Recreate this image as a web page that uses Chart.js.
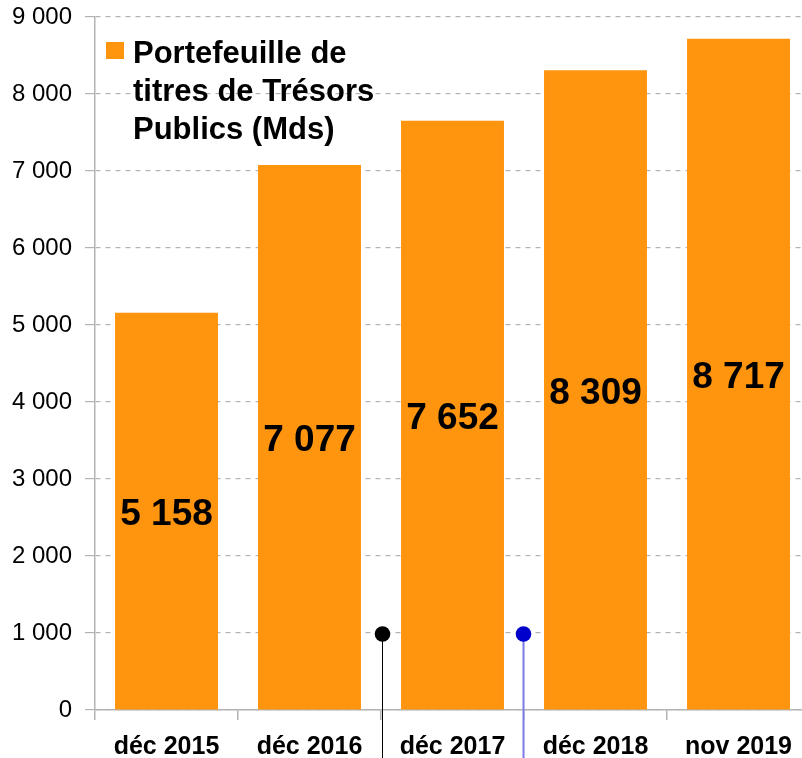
<!DOCTYPE html>
<html lang="fr">
<head>
<meta charset="utf-8">
<title>Portefeuille de titres de Trésors Publics</title>
<script src="https://cdn.jsdelivr.net/npm/chart.js@4/dist/chart.umd.min.js"></script>
<style>
  html, body { margin: 0; padding: 0; background: #fff; overflow: hidden; }
  #wrap { width: 802px; height: 758px; overflow: hidden; position: relative; }
  canvas { position: absolute; left: 0; top: 0; }
</style>
</head>
<body>
<div id="wrap">
  <canvas id="myChart" width="820" height="758"></canvas>
</div>
<script>
// categories et valeurs (milliards)
const categories = ['déc 2015', 'déc 2016', 'déc 2017', 'déc 2018', 'nov 2019'];
const portfolioValues = [5158, 7077, 7652, 8309, 8717];
const yTicks = [0, 1000, 2000, 3000, 4000, 5000, 6000, 7000, 8000, 9000];
const legendLines = ['Portefeuille de', 'titres de Trésors', 'Publics (Mds)'];

// petits repères (position en index de catégorie)
const markerX = [1.51, 2.49];
const markerY = [1000, 1000];
const markerColors = ['#000000', '#0000cc'];
const stemColors = ['#000000', '#7a7ae6'];

const orange = '#ff950e';
const gridGrey = '#b3b3b3';

function fmt(v) {
    return String(v).replace(/\B(?=(\d{3})+(?!\d))/g, ' ');
}

// valeurs au milieu des barres + légende + repères
const extras = {
    id: 'extras',
    afterDatasetsDraw(chart) {
        const ctx = chart.ctx;
        const xs = chart.scales.x;
        const ys = chart.scales.y;
        const meta = chart.getDatasetMeta(0);
        ctx.save();
        ctx.font = 'bold 37px "Liberation Sans", Arial, sans-serif';
        ctx.fillStyle = '#000';
        ctx.textAlign = 'center';
        ctx.textBaseline = 'middle';
        meta.data.forEach((bar, i) => {
            const mid = (bar.y + bar.base) / 2;
            ctx.fillText(fmt(portfolioValues[i]), bar.x, mid + 4);
        });

        // repères : tige + point
        markerX.forEach((mx, i) => {
            const px = Math.round(xs.getPixelForValue(mx));
            const py = ys.getPixelForValue(markerY[i]);
            ctx.strokeStyle = stemColors[i];
            ctx.lineWidth = i === 0 ? 1 : 2;
            ctx.beginPath();
            ctx.moveTo(px + 0.5, py);
            ctx.lineTo(px + 0.5, chart.height);
            ctx.stroke();
            ctx.fillStyle = markerColors[i];
            ctx.beginPath();
            ctx.arc(px + 0.5, py + 1, 7.8, 0, Math.PI * 2);
            ctx.fill();
        });

        // légende
        const area = chart.chartArea;
        ctx.fillStyle = orange;
        ctx.fillRect(area.left + 11, area.top + 25, 18, 17);
        ctx.fillStyle = '#000';
        ctx.textAlign = 'left';
        ctx.font = 'bold 31px "Liberation Sans", Arial, sans-serif';
        legendLines.forEach((line, i) => {
            ctx.fillText(line, area.left + 38, area.top + 37 + i * 38);
        });
        ctx.restore();
    }
};

const ctx = document.getElementById('myChart').getContext('2d');
new Chart(ctx, {
    type: 'bar',
    data: {
        labels: categories,
        datasets: [{
            label: legendLines.join(' '),
            data: portfolioValues,
            backgroundColor: orange,
            borderWidth: 0,
            categoryPercentage: 1,
            barPercentage: 0.72
        }]
    },
    options: {
        responsive: false,
        animation: false,
        events: [],
        layout: { padding: { top: 17, right: 10, left: 0, bottom: 0 } },
        plugins: {
            legend: { display: false },
            tooltip: { enabled: false }
        },
        scales: {
            x: {
                type: 'category',
                grid: {
                    offset: true,
                    drawOnChartArea: false,
                    drawTicks: true,
                    tickLength: 10,
                    color: gridGrey,
                    lineWidth: 1.5
                },
                border: { color: gridGrey, width: 1.5 },
                ticks: {
                    color: '#000',
                    padding: 12,
                    maxRotation: 0,
                    font: { family: '"Liberation Sans", Arial, sans-serif', size: 25, weight: 'bold' }
                },
                afterFit(scale) {
                    scale.height = 48;
                    scale.paddingLeft = 0;
                    scale.paddingRight = 0;
                }
            },
            y: {
                min: 0,
                max: 9000,
                afterBuildTicks(scale) { scale.ticks = yTicks.map(v => ({ value: v })); },
                grid: {
                    color: gridGrey,
                    lineWidth: 1.2,
                    tickLength: 10,
                    tickBorderDash: [],
                    tickColor: gridGrey
                },
                border: { color: gridGrey, width: 1.5, dash: [5, 5] },
                ticks: {
                    color: '#000',
                    padding: 13,
                    callback: v => fmt(v),
                    font: { family: '"Liberation Sans", Arial, sans-serif', size: 24 }
                },
                afterFit(scale) {
                    scale.width = 95;
                    scale.paddingTop = 0;
                    scale.paddingBottom = 0;
                }
            }
        }
    },
    plugins: [extras]
});
</script>
</body>
</html>
